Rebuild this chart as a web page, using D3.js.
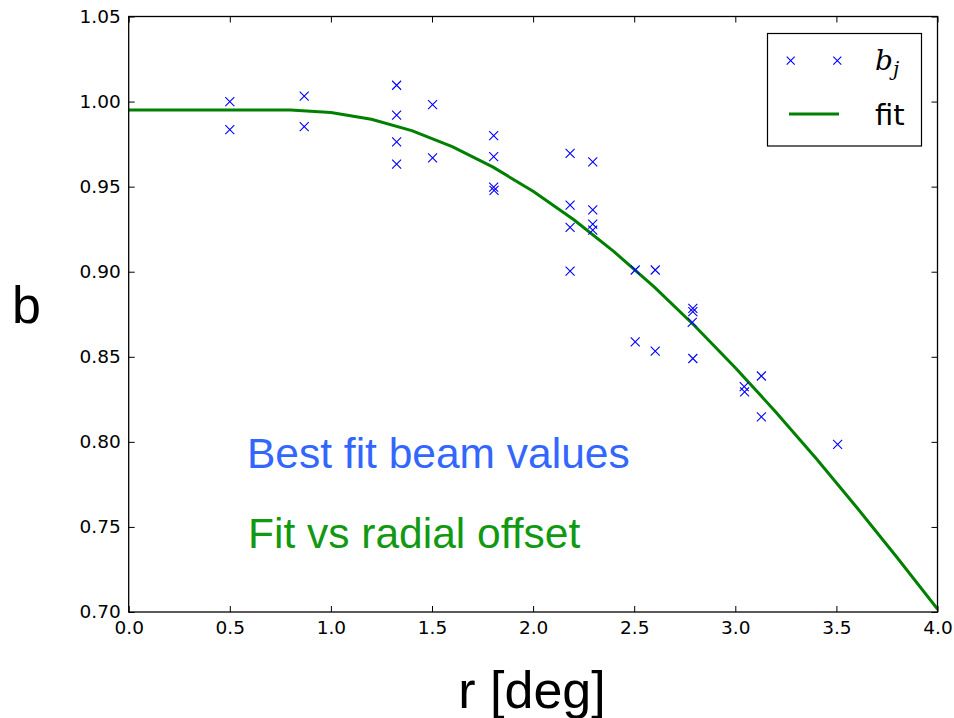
<!DOCTYPE html>
<html>
<head>
<meta charset="utf-8">
<script src="https://cdn.jsdelivr.net/npm/d3@7"></script>
<style>
  html, body { margin: 0; padding: 0; background: #fff; }
  svg { display: block; }
  .tick text { font-family: "DejaVu Sans", sans-serif; font-size: 18.5px; fill: #000; }
  .tick line { stroke: #000; stroke-width: 1; }
</style>
</head>
<body>
<svg id="chart" width="954" height="718"></svg>
<script>
// Measured beam values b_j at each radial offset r (deg)
const rObs = [0.5, 0.5, 0.868, 0.868,
  1.325, 1.325, 1.325, 1.325,
  1.503, 1.503,
  1.805, 1.805, 1.805, 1.807,
  2.183, 2.183, 2.183, 2.183,
  2.295, 2.295, 2.295, 2.295,
  2.505, 2.505, 2.604, 2.604,
  2.79, 2.79, 2.787, 2.79,
  3.044, 3.046, 3.129, 3.129,
  3.506];
const bObs = [1.000, 0.9835, 1.0032, 0.9853,
  1.0096, 0.9920, 0.9763, 0.9632,
  0.9982, 0.9669,
  0.9800, 0.9676, 0.9497, 0.9478,
  0.9696, 0.9392, 0.9261, 0.9004,
  0.9645, 0.9363, 0.9280, 0.9245,
  0.9010, 0.8588, 0.9010, 0.8533,
  0.8785, 0.8765, 0.8702, 0.8490,
  0.8324, 0.8294, 0.8387, 0.8147,
  0.7985];

// Fitted curve sampled every 0.2 deg
const rFit = [0.0, 0.2, 0.4, 0.6, 0.8, 1.0, 1.2, 1.4, 1.6, 1.8, 2.0,
  2.2, 2.4, 2.6, 2.8, 3.0, 3.2, 3.4, 3.6, 3.8, 4.0];
const bFit = [0.995, 0.995, 0.995, 0.995, 0.995, 0.9936, 0.9896, 0.9829,
  0.9735, 0.9616, 0.9473, 0.9307, 0.9118, 0.8909, 0.8681, 0.8436,
  0.8176, 0.7902, 0.7616, 0.7320, 0.7017];

// Axis ticks
const xTicks = [0.0, 0.5, 1.0, 1.5, 2.0, 2.5, 3.0, 3.5, 4.0];
const yTicks = [0.70, 0.75, 0.80, 0.85, 0.90, 0.95, 1.00, 1.05];

const legendLabels = ["b", "fit"];
const annotations = ["Best fit beam values", "Fit vs radial offset"];

const svg = d3.select("#chart");
const plotL = 128.7, plotR = 937.5, plotT = 16.5, plotB = 612;
const plotW = plotR - plotL, plotH = plotB - plotT;

const x = d3.scaleLinear().domain([0, 4]).range([plotL, plotR]);
const y = d3.scaleLinear().domain([0.70, 1.05]).range([plotB, plotT]);

// Axes with inward-pointing ticks on all four sides
const fmtX = d3.format(".1f"), fmtY = d3.format(".2f");
svg.append("g").attr("transform", `translate(0,${plotB})`)
  .call(d3.axisBottom(x).tickValues(xTicks).tickFormat(fmtX).tickSizeInner(-6).tickSizeOuter(0).tickPadding(9))
  .call(g => g.select(".domain").remove());
svg.append("g").attr("transform", `translate(0,${plotT})`)
  .call(d3.axisTop(x).tickValues(xTicks).tickFormat("").tickSizeInner(-6).tickSizeOuter(0))
  .call(g => g.select(".domain").remove());
svg.append("g").attr("transform", `translate(${plotL},0)`)
  .call(d3.axisLeft(y).tickValues(yTicks).tickFormat(fmtY).tickSizeInner(-6).tickSizeOuter(0).tickPadding(8))
  .call(g => g.select(".domain").remove());
svg.append("g").attr("transform", `translate(${plotR},0)`)
  .call(d3.axisRight(y).tickValues(yTicks).tickFormat("").tickSizeInner(-6).tickSizeOuter(0))
  .call(g => g.select(".domain").remove());

// Clip region for the data
svg.append("clipPath").attr("id", "plotclip")
  .append("rect").attr("x", plotL).attr("y", plotT).attr("width", plotW).attr("height", plotH);

// Fit line
const line = d3.line().x(d => x(d[0])).y(d => y(d[1]));
svg.append("path")
  .datum(d3.zip(rFit, bFit))
  .attr("d", line)
  .attr("clip-path", "url(#plotclip)")
  .attr("fill", "none")
  .attr("stroke", "#008000")
  .attr("stroke-width", 3)
  .attr("stroke-linejoin", "round");

// Cross markers
const cross = (s) => `M${-s},${-s}L${s},${s}M${-s},${s}L${s},${-s}`;
svg.append("g").selectAll("path")
  .data(d3.zip(rObs, bObs))
  .join("path")
  .attr("transform", d => `translate(${x(d[0])},${y(d[1])})`)
  .attr("d", cross(4.5))
  .attr("fill", "none")
  .attr("stroke", "#0000ff")
  .attr("stroke-width", 1.1);

// Frame
svg.append("rect")
  .attr("x", plotL).attr("y", plotT).attr("width", plotW).attr("height", plotH)
  .attr("fill", "none").attr("stroke", "#000").attr("stroke-width", 1.3);

// Annotations
svg.append("text").attr("x", 247).attr("y", 468)
  .attr("font-family", "Liberation Sans, Arial, sans-serif").attr("font-size", 42.5)
  .attr("fill", "#3366ff").text(annotations[0]);
svg.append("text").attr("x", 248).attr("y", 548)
  .attr("font-family", "Liberation Sans, Arial, sans-serif").attr("font-size", 42.5)
  .attr("fill", "#129912").text(annotations[1]);

// Axis titles
svg.append("text").attr("x", 532).attr("y", 708).attr("text-anchor", "middle")
  .attr("font-family", "Liberation Sans, Arial, sans-serif").attr("font-size", 52)
  .attr("fill", "#000").text("r [deg]");
svg.append("text").attr("x", 12).attr("y", 323)
  .attr("font-family", "Liberation Sans, Arial, sans-serif").attr("font-size", 52)
  .attr("fill", "#000").text("b");

// Legend
const lg = svg.append("g");
lg.append("rect").attr("x", 767.5).attr("y", 33.5).attr("width", 154).attr("height", 112.5)
  .attr("fill", "#fff").attr("stroke", "#000").attr("stroke-width", 1.2);
[790.7, 837.3].forEach(cx => {
  lg.append("path").attr("transform", `translate(${cx},60.7)`).attr("d", cross(4))
    .attr("fill", "none").attr("stroke", "#0000ff").attr("stroke-width", 1.1);
});
lg.append("line").attr("x1", 789).attr("x2", 839).attr("y1", 114).attr("y2", 114)
  .attr("stroke", "#008000").attr("stroke-width", 3);
const bj = lg.append("text").attr("x", 875).attr("y", 70)
  .attr("font-family", "DejaVu Serif, Liberation Serif, serif").attr("font-style", "italic")
  .attr("font-size", 28).attr("fill", "#000");
bj.append("tspan").text(legendLabels[0]);
bj.append("tspan").attr("dy", 6).attr("font-size", 20).text("j");
lg.append("text").attr("x", 875).attr("y", 125)
  .attr("font-family", "DejaVu Sans, sans-serif").attr("font-size", 29)
  .attr("fill", "#000").text(legendLabels[1]);
</script>
</body>
</html>
